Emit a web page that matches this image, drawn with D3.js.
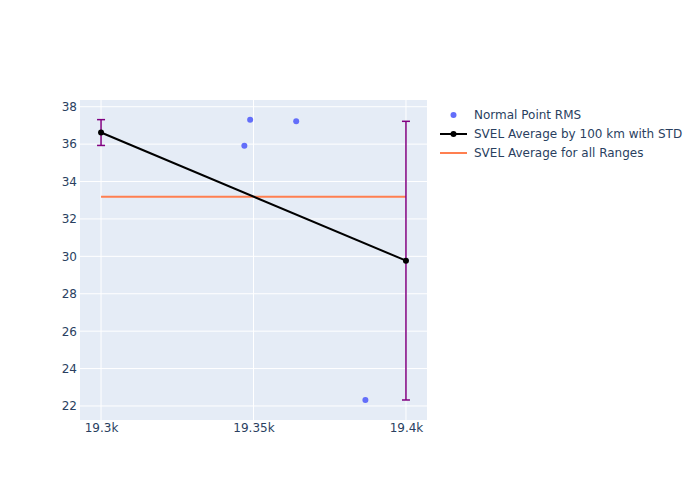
<!DOCTYPE html>
<html><head><meta charset="utf-8">
<script src="https://cdn.jsdelivr.net/npm/d3@7"></script>
<style>body{margin:0;background:#fff;} text{font-family:"DejaVu Sans",sans-serif;}</style>
</head><body>
<svg id="c" width="700" height="500"></svg>
<script>
const rmsX = [19347.0, 19348.9, 19364.0, 19386.7];
const rmsY = [35.92, 37.31, 37.22, 22.32];
const avgX = [19300, 19400];
const avgY = [36.62, 29.77];
const avgStd = [0.69, 7.45];
const allAvg = 33.19;
const xTicks = [19300, 19350, 19400];
const xTickLabels = ["19.3k", "19.35k", "19.4k"];
const yTicks = [22, 24, 26, 28, 30, 32, 34, 36, 38];
const legendLabels = ["Normal Point RMS", "SVEL Average by 100 km with STD", "SVEL Average for all Ranges"];

const svg = d3.select("#c");
const L = 80, R = 427, T = 100, B = 420;
const x = d3.scaleLinear().domain([19293.1, 19406.9]).range([L, R]);
const y = d3.scaleLinear().domain([21.25, 38.36]).range([B, T]);

svg.append("rect").attr("x", L).attr("y", T).attr("width", R - L).attr("height", B - T).attr("fill", "#E5ECF6");

const gx = svg.append("g").attr("transform", `translate(0,${B})`)
  .call(d3.axisBottom(x).tickValues(xTicks).tickFormat((d, i) => xTickLabels[i]).tickSize(0).tickPadding(3));
gx.select(".domain").remove();
gx.selectAll("text").attr("fill", "#2a3f5f").style("font-size", "12px").style("font-family", "DejaVu Sans");
svg.append("g").selectAll("line").data(xTicks).join("line")
  .attr("x1", d => x(d)).attr("x2", d => x(d)).attr("y1", T).attr("y2", B)
  .attr("stroke", "#fff").attr("stroke-width", 1);

const gy = svg.append("g").attr("transform", `translate(${L},0)`)
  .call(d3.axisLeft(y).tickValues(yTicks).tickSize(0).tickPadding(3));
gy.select(".domain").remove();
gy.selectAll("text").attr("fill", "#2a3f5f").style("font-size", "12px").style("font-family", "DejaVu Sans");
svg.append("g").selectAll("line").data(yTicks).join("line")
  .attr("x1", L).attr("x2", R).attr("y1", d => y(d)).attr("y2", d => y(d))
  .attr("stroke", "#fff").attr("stroke-width", 1);

// orange all-average line
svg.append("line").attr("x1", x(avgX[0])).attr("x2", x(avgX[1]))
  .attr("y1", y(allAvg)).attr("y2", y(allAvg)).attr("stroke", "#FF7F50").attr("stroke-width", 2);

// error bars
const eb = svg.append("g");
avgX.forEach((xv, i) => {
  const lo = y(avgY[i] - avgStd[i]), hi = y(avgY[i] + avgStd[i]), cx = x(xv);
  eb.append("line").attr("x1", cx).attr("x2", cx).attr("y1", lo).attr("y2", hi).attr("stroke", "purple").attr("stroke-width", 1.5);
  eb.append("line").attr("x1", cx - 4).attr("x2", cx + 4).attr("y1", lo).attr("y2", lo).attr("stroke", "purple").attr("stroke-width", 1.5);
  eb.append("line").attr("x1", cx - 4).attr("x2", cx + 4).attr("y1", hi).attr("y2", hi).attr("stroke", "purple").attr("stroke-width", 1.5);
});

// black average line
svg.append("path").datum(avgX.map((d, i) => [d, avgY[i]]))
  .attr("d", d3.line().x(d => x(d[0])).y(d => y(d[1])))
  .attr("fill", "none").attr("stroke", "black").attr("stroke-width", 2);
svg.append("g").selectAll("circle").data(avgX).join("circle")
  .attr("cx", d => x(d)).attr("cy", (d, i) => y(avgY[i])).attr("r", 3).attr("fill", "black");

// rms points
svg.append("g").selectAll("circle").data(rmsX).join("circle")
  .attr("cx", d => x(d)).attr("cy", (d, i) => y(rmsY[i])).attr("r", 3).attr("fill", "#636efa");

// legend
const lg = svg.append("g");
const ly = [115, 134, 153];
lg.append("circle").attr("cx", 453.5).attr("cy", ly[0]).attr("r", 3).attr("fill", "#636efa");
lg.append("line").attr("x1", 440).attr("x2", 467).attr("y1", ly[1]).attr("y2", ly[1]).attr("stroke", "black").attr("stroke-width", 2);
lg.append("circle").attr("cx", 453.5).attr("cy", ly[1]).attr("r", 3).attr("fill", "black");
lg.append("line").attr("x1", 440).attr("x2", 467).attr("y1", ly[2]).attr("y2", ly[2]).attr("stroke", "#FF7F50").attr("stroke-width", 2);
lg.selectAll("text").data(legendLabels).join("text")
  .attr("x", 474).attr("y", (d, i) => ly[i]).attr("dy", "0.35em")
  .attr("fill", "#2a3f5f").style("font-size", "12px").text(d => d);
</script>
</body></html>
